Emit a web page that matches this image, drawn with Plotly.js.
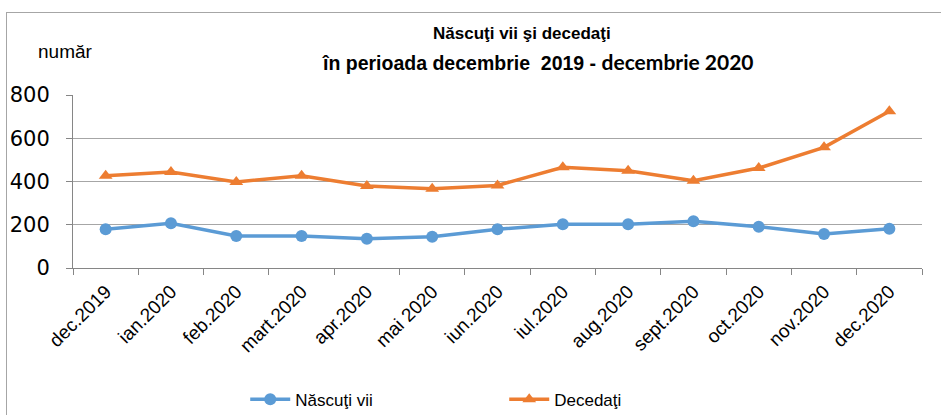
<!DOCTYPE html>
<html><head><meta charset="utf-8">
<script src="https://cdn.plot.ly/plotly-3.0.1.min.js"></script>
<style>
body{margin:0;background:#fff;}
#wrap{position:relative;width:941px;height:415px;}
#frame{position:absolute;left:6px;top:12px;width:940px;height:410px;border-left:1px solid #a6a6a6;border-top:1px solid #a6a6a6;pointer-events:none;}
#chart{width:941px;height:415px;}
</style></head>
<body><div id="wrap"><div id="chart"></div><div id="frame"></div></div>
<script>
const months = ["dec.2019","ian.2020","feb.2020","mart.2020","apr.2020","mai 2020","iun.2020","iul.2020","aug.2020","sept.2020","oct.2020","nov.2020","dec.2020"];
const nascutiVii = [179,207,148,148,135,145,179,202,202,216,191,157,182];
const decedati = [427,444,398,427,379,367,382,466,450,404,462,558,725];
const yTicks = [0,200,400,600,800];

const narrow = '"Liberation Sans Narrow", "Liberation Sans", Arial, sans-serif';
const arial = '"Liberation Sans", Arial, sans-serif';
const traces = [
  {x: months, y: nascutiVii, name: 'Născuţi vii', type: 'scatter', mode: 'lines+markers',
   line: {color: '#5b9bd5', width: 3.5}, marker: {symbol: 'circle', size: 12, color: '#5b9bd5'}},
  {x: months, y: decedati, name: 'Decedaţi', type: 'scatter', mode: 'lines+markers',
   line: {color: '#ed7d31', width: 3.5}, marker: {symbol: 'triangle-up', size: 12, color: '#ed7d31'}}
];
const layout = {
  width: 941, height: 415,
  margin: {l: 73, r: 19, t: 95, b: 147, autoexpand: false},
  paper_bgcolor: '#fff', plot_bgcolor: '#fff',
  showlegend: true,
  legend: {orientation: 'h', xref: 'container', x: 0.2606, xanchor: 'left', yref: 'container', y: 0.037, yanchor: 'middle',
           font: {family: arial, size: 17, color: '#000'}, entrywidth: 204, entrywidthmode: 'pixels', itemwidth: 40},
  title: {text: ''},
  xaxis: {type: 'category', tickangle: -45, tickson: 'boundaries', ticks: 'outside', ticklen: 6,
          tickcolor: '#868686', showline: true, linecolor: '#868686', linewidth: 1, showgrid: false,
          automargin: false, ticklabelstandoff: 4,
          tickfont: {family: arial, size: 19, color: '#000'}, range: [-0.5, 12.5], fixedrange: true},
  yaxis: {range: [0, 800], tickvals: yTicks, ticks: 'outside', ticklen: 6, tickcolor: '#868686',
          showline: true, linecolor: '#868686', showgrid: true, gridcolor: '#a6a6a6', gridwidth: 1,
          zeroline: false, automargin: false, ticklabelstandoff: 12,
          tickfont: {family: '"DejaVu Sans", Arial, sans-serif', size: 21, color: '#000'},
          fixedrange: true},
  annotations: [
    {text: '<b>Născuţi vii şi decedaţi</b>', xref: 'paper', yref: 'paper', x: 0.529, y: 1.358,
     xanchor: 'center', yanchor: 'middle', showarrow: false, font: {family: arial, size: 17, color: '#000'}},
    {text: '<b>în perioada decembrie  2019 - <span style="font-family:Lato;font-size:21px">decembrie 2020</span></b>', xref: 'paper', yref: 'paper', x: 0.548, y: 1.191,
     xanchor: 'center', yanchor: 'middle', showarrow: false, font: {family: arial, size: 19.5, color: '#000'}},
    {text: 'număr', xref: 'paper', yref: 'paper', x: -0.043, y: 1.249, xanchor: 'left', yanchor: 'middle',
     showarrow: false, font: {family: narrow, size: 19, color: '#000'}}]
};
Plotly.newPlot('chart', traces, layout, {displayModeBar: false, staticPlot: true});
</script></body></html>
